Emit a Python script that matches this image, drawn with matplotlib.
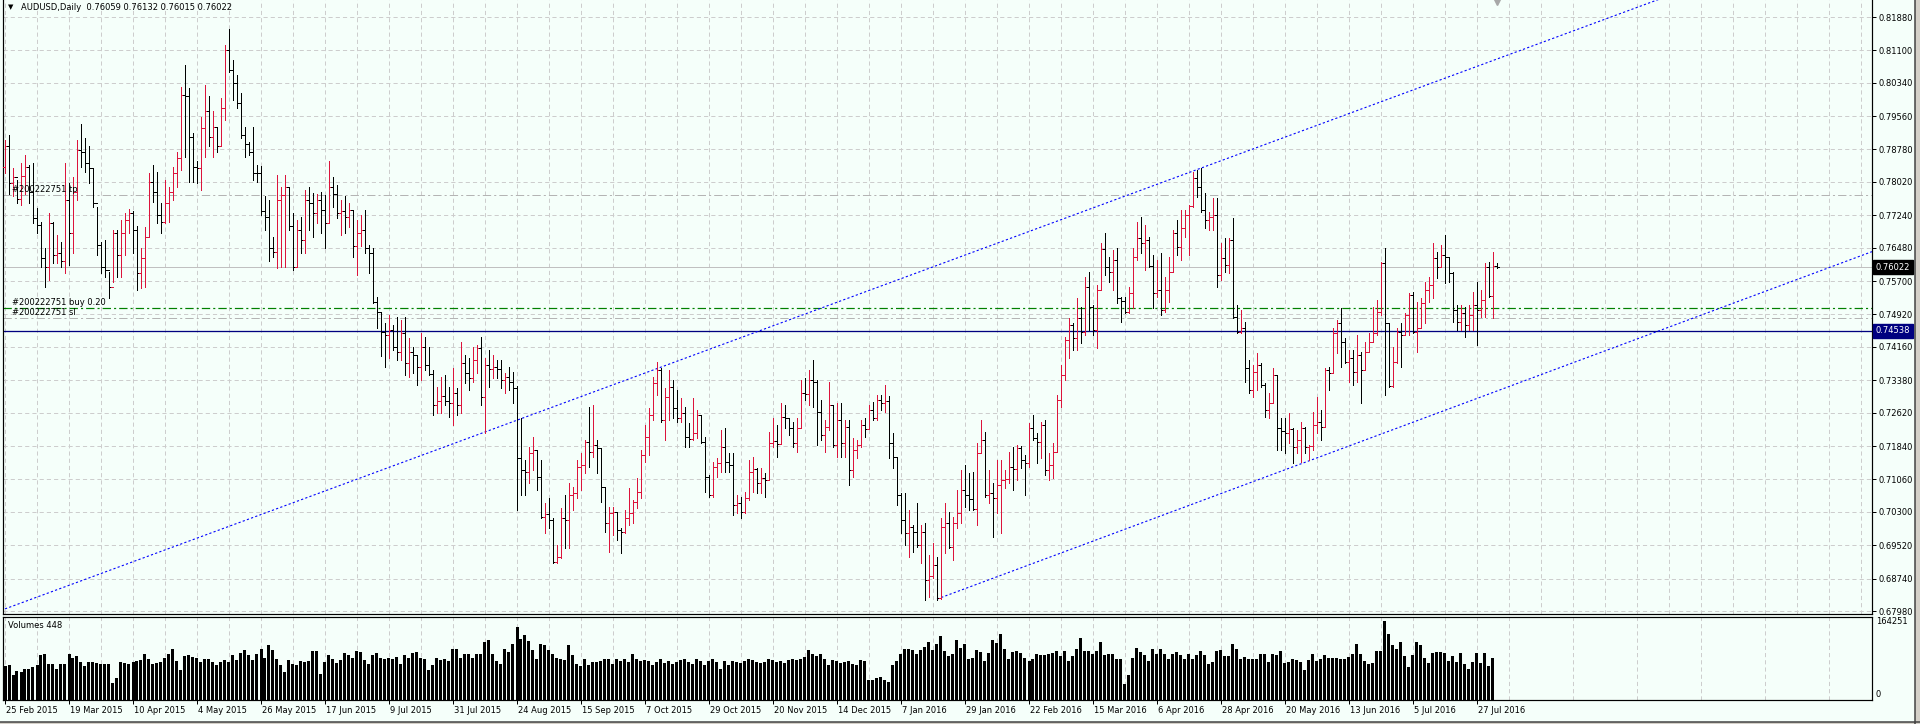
import numpy as np
import matplotlib
matplotlib.use("Agg")
import matplotlib.pyplot as plt
from matplotlib import transforms
from matplotlib.collections import LineCollection
from matplotlib.patches import Rectangle

plt.rcParams['font.family'] = ['DejaVu Sans']
plt.rcParams['lines.scale_dashes'] = False

# AUDUSD daily bars, 25 Feb 2015 .. 3 Aug 2016
highs = [
    .7900, .7912, .7834, .7807, .7846, .7865, .7842, .7846, .7740, .7709,
    .7647, .7729, .7709, .7678, .7662, .7846, .7799, .7814, .7900, .7938,
    .7904, .7885, .7834, .7744, .7662, .7666, .7592, .7690, .7690, .7713,
    .7729, .7739, .7735, .7700, .7647, .7697, .7822, .7842, .7826, .7752,
    .7807, .7791, .7838, .7873, .8025, .8076, .8021, .7916, .7850, .7955,
    .8029, .8002, .7967, .7931, .7998, .8122, .8161, .8087, .8052, .8010,
    .7931, .7895, .7931, .7842, .7840, .7768, .7760, .7674, .7818, .7791,
    .7818, .7787, .7729, .7713, .7721, .7783, .7791, .7777, .7775, .7779,
    .7772, .7850, .7814, .7795, .7760, .7768, .7752, .7736, .7713, .7725,
    .7736, .7655, .7647, .7533, .7498, .7472, .7491, .7467, .7486, .7479,
    .7486, .7437, .7416, .7397, .7449, .7439, .7416, .7362, .7322, .7346,
    .7350, .7322, .7367, .7320, .7428, .7397, .7390, .7416, .7421, .7439,
    .7390, .7409, .7397, .7385, .7385, .7355, .7369, .7357, .7325, .7250,
    .7151, .7182, .7205, .7175, .7151, .7051, .7062, .7016, .6952, .7039,
    .7070, .7098, .7088, .7151, .7168, .7198, .7275, .7280, .7198, .7180,
    .7088, .7041, .7041, .7030, .6992, .7034, .7086, .7058, .7109, .7175,
    .7233, .7273, .7346, .7381, .7367, .7320, .7362, .7339, .7315, .7296,
    .7275, .7238, .7296, .7268, .7257, .7205, .7116, .7147, .7156, .7222,
    .7226, .7168, .7168, .7070, .7065, .7077, .7151, .7158, .7133, .7133,
    .7121, .7217, .7250, .7233, .7285, .7280, .7250, .7240, .7250, .7339,
    .7343, .7362, .7385, .7339, .7292, .7245, .7334, .7280, .7285, .7285,
    .7245, .7245, .7203, .7198, .7245, .7250, .7280, .7287, .7303, .7303,
    .7327, .7301, .7214, .7158, .7074, .7074, .7034, .6999, .7051, .6999,
    .7004, .6929, .6957, .6924, .7016, .7051, .7030, .7018, .7081, .7128,
    .7140, .7121, .7123, .7191, .7245, .7217, .7128, .7098, .7151, .7151,
    .7128, .7170, .7182, .7186, .7184, .7163, .7238, .7257, .7214, .7240,
    .7245, .7168, .7191, .7303, .7374, .7439, .7484, .7472, .7530, .7509,
    .7580, .7591, .7514, .7561, .7659, .7683, .7626, .7643, .7647, .7533,
    .7533, .7556, .7647, .7708, .7720, .7701, .7673, .7631, .7619, .7636,
    .7580, .7626, .7690, .7713, .7736, .7736, .7748, .7825, .7830, .7835,
    .7776, .7732, .7764, .7764, .7659, .7671, .7671, .7718, .7514, .7503,
    .7474, .7385, .7374, .7402, .7378, .7332, .7308, .7367, .7350, .7250,
    .7250, .7261, .7226, .7222, .7240, .7228, .7186, .7264, .7299, .7268,
    .7367, .7369, .7460, .7479, .7507, .7437, .7409, .7409, .7444, .7404,
    .7428, .7449, .7509, .7526, .7615, .7647, .7472, .7416, .7460, .7472,
    .7495, .7542, .7545, .7521, .7530, .7568, .7580, .7659, .7638, .7654,
    .7678, .7626, .7591, .7514, .7514, .7509, .7514, .7545, .7568, .7549,
    .7612, .7615, .7638, .76132,
]
lows = [
    .7822, .7775, .7768, .7752, .7748, .7775, .7752, .7705, .7682, .7604,
    .7557, .7573, .7612, .7612, .7604, .7588, .7608, .7635, .7760, .7838,
    .7826, .7799, .7744, .7631, .7588, .7580, .7530, .7569, .7580, .7580,
    .7631, .7682, .7635, .7549, .7553, .7557, .7674, .7756, .7705, .7682,
    .7705, .7709, .7760, .7791, .7830, .7861, .7803, .7803, .7799, .7783,
    .7861, .7885, .7861, .7873, .7885, .7947, .8060, .7994, .7974, .7904,
    .7861, .7865, .7807, .7803, .7725, .7690, .7616, .7627, .7600, .7604,
    .7604, .7690, .7596, .7604, .7635, .7635, .7690, .7674, .7705, .7682,
    .7647, .7705, .7744, .7717, .7678, .7682, .7697, .7627, .7584, .7651,
    .7635, .7588, .7519, .7460, .7395, .7369, .7390, .7409, .7385, .7385,
    .7350, .7346, .7355, .7327, .7339, .7362, .7350, .7257, .7261, .7261,
    .7280, .7252, .7233, .7257, .7261, .7332, .7315, .7334, .7355, .7280,
    .7214, .7322, .7343, .7343, .7320, .7308, .7315, .7285, .7034, .7070,
    .7070, .7098, .7128, .7081, .7016, .6981, .6992, .6910, .6910, .6922,
    .6945, .6945, .7034, .7062, .7081, .7121, .7135, .7158, .7121, .7053,
    .6983, .6936, .6976, .6964, .6934, .6981, .6999, .7004, .7039, .7062,
    .7147, .7163, .7245, .7303, .7240, .7198, .7245, .7250, .7240, .7240,
    .7182, .7182, .7198, .7203, .7191, .7077, .7065, .7065, .7112, .7123,
    .7123, .7123, .7023, .7027, .7016, .7027, .7058, .7077, .7074, .7074,
    .7065, .7105, .7182, .7158, .7191, .7226, .7210, .7182, .7170, .7226,
    .7292, .7280, .7275, .7186, .7198, .7170, .7222, .7182, .7158, .7158,
    .7158, .7093, .7112, .7156, .7182, .7205, .7226, .7245, .7245, .7268,
    .7264, .7156, .7133, .7046, .6981, .6952, .6924, .6936, .6948, .6910,
    .6824, .6831, .6875, .6824, .6826, .6934, .6945, .6917, .6992, .7004,
    .7041, .7034, .7034, .6999, .7168, .7065, .7051, .6971, .7027, .6981,
    .7086, .7098, .7081, .7105, .7133, .7070, .7135, .7198, .7144, .7156,
    .7116, .7105, .7109, .7170, .7275, .7339, .7390, .7409, .7409, .7425,
    .7444, .7456, .7444, .7414, .7549, .7584, .7568, .7549, .7519, .7474,
    .7495, .7495, .7507, .7619, .7636, .7596, .7603, .7507, .7533, .7491,
    .7498, .7521, .7591, .7631, .7619, .7673, .7631, .7743, .7767, .7732,
    .7694, .7690, .7690, .7556, .7573, .7591, .7589, .7484, .7449, .7449,
    .7334, .7308, .7299, .7315, .7322, .7252, .7250, .7285, .7175, .7175,
    .7168, .7191, .7144, .7168, .7147, .7168, .7151, .7175, .7214, .7198,
    .7228, .7315, .7357, .7402, .7369, .7378, .7334, .7327, .7334, .7285,
    .7362, .7404, .7428, .7444, .7491, .7304, .7322, .7322, .7378, .7369,
    .7445, .7444, .7449, .7404, .7460, .7472, .7521, .7530, .7577, .7603,
    .7566, .7568, .7474, .7456, .7456, .7439, .7456, .7456, .7421, .7486,
    .7486, .7533, .7484, .76015,
]
closes = [
    .7885, .7799, .7814, .7761, .7816, .7838, .7779, .7717, .7701, .7623,
    .7604, .7705, .7631, .7635, .7616, .7760, .7682, .7779, .7877, .7873,
    .7846, .7834, .7752, .7655, .7604, .7596, .7557, .7682, .7631, .7682,
    .7713, .7729, .7690, .7588, .7623, .7674, .7803, .7779, .7725, .7709,
    .7752, .7779, .7822, .7857, .8006, .8002, .7908, .7838, .7834, .7928,
    .7967, .7908, .7931, .7885, .7974, .8111, .8064, .8033, .7986, .7912,
    .7892, .7873, .7822, .7822, .7733, .7721, .7647, .7639, .7760, .7772,
    .7791, .7698, .7604, .7690, .7666, .7760, .7752, .7729, .7760, .7736,
    .7705, .7791, .7775, .7729, .7733, .7721, .7736, .7651, .7682, .7690,
    .7647, .7635, .7520, .7498, .7451, .7445, .7455, .7416, .7404, .7449,
    .7378, .7404, .7397, .7369, .7416, .7374, .7352, .7280, .7290, .7300,
    .7290, .7285, .7308, .7280, .7378, .7355, .7343, .7385, .7414, .7299,
    .7374, .7365, .7370, .7365, .7339, .7345, .7334, .7320, .7156, .7128,
    .7123, .7168, .7175, .7112, .7018, .7025, .7010, .6913, .6924, .7016,
    .7010, .7070, .7074, .7135, .7140, .7193, .7170, .7186, .7180, .7088,
    .7004, .7027, .7030, .6988, .6983, .7016, .7027, .7053, .7077, .7163,
    .7205, .7257, .7332, .7362, .7245, .7299, .7322, .7273, .7250, .7261,
    .7205, .7200, .7214, .7257, .7193, .7112, .7070, .7135, .7144, .7182,
    .7147, .7140, .7046, .7050, .7030, .7062, .7123, .7130, .7098, .7109,
    .7105, .7191, .7195, .7188, .7252, .7250, .7226, .7191, .7226, .7308,
    .7305, .7339, .7334, .7264, .7210, .7228, .7280, .7186, .7245, .7191,
    .7228, .7128, .7175, .7186, .7233, .7225, .7268, .7250, .7292, .7285,
    .7290, .7191, .7158, .7070, .7011, .6981, .6995, .6983, .6952, .6983,
    .6871, .6880, .6906, .6829, .6995, .7004, .6948, .7004, .7027, .7081,
    .7070, .7060, .7036, .7168, .7198, .7070, .7074, .7062, .7093, .7105,
    .7107, .7135, .7130, .7179, .7151, .7145, .7226, .7203, .7193, .7233,
    .7128, .7140, .7170, .7292, .7350, .7432, .7467, .7437, .7484, .7451,
    .7556, .7509, .7456, .7549, .7645, .7603, .7591, .7619, .7531, .7524,
    .7498, .7542, .7626, .7671, .7659, .7666, .7605, .7542, .7549, .7502,
    .7549, .7591, .7683, .7650, .7694, .7725, .7746, .7811, .7790, .7736,
    .7713, .7720, .7725, .7584, .7624, .7608, .7666, .7486, .7451, .7460,
    .7367, .7315, .7357, .7374, .7327, .7268, .7285, .7350, .7226, .7220,
    .7215, .7225, .7182, .7198, .7226, .7182, .7184, .7233, .7240, .7228,
    .7362, .7355, .7449, .7472, .7428, .7381, .7390, .7357, .7397, .7362,
    .7404, .7428, .7449, .7498, .7612, .7472, .7325, .7381, .7451, .7445,
    .7491, .7538, .7451, .7460, .7519, .7549, .7561, .7624, .7603, .7631,
    .7626, .7589, .7502, .7474, .7495, .7467, .7491, .7514, .7503, .7526,
    .7603, .7535, .76059, .76022,
]
first_open = .7838   # each later bar opens at the previous close

# tick volumes, thousands
volumes_k = [
    70, 72, 51, 60, 59, 65, 65, 68, 72, 94,
    96, 74, 75, 65, 75, 75, 95, 88, 91, 79,
    70, 79, 78, 77, 75, 75, 74, 36, 45, 78,
    77, 75, 79, 81, 84, 96, 86, 75, 77, 79,
    88, 95, 105, 82, 62, 91, 93, 89, 88, 79,
    86, 86, 79, 72, 79, 84, 78, 93, 84, 98,
    103, 93, 84, 96, 107, 88, 114, 103, 86, 72,
    58, 84, 75, 72, 82, 79, 82, 102, 102, 55,
    79, 93, 86, 77, 84, 98, 93, 88, 101, 100,
    84, 75, 93, 98, 88, 86, 88, 86, 89, 75,
    93, 88, 98, 99, 88, 86, 62, 73, 88, 84,
    86, 82, 107, 107, 88, 96, 96, 88, 96, 96,
    121, 124, 96, 82, 75, 107, 100, 117, 152, 126,
    135, 123, 103, 86, 116, 114, 103, 96, 88, 86,
    84, 114, 93, 75, 70, 86, 72, 79, 79, 82,
    86, 86, 75, 86, 82, 86, 79, 96, 86, 82,
    84, 82, 72, 79, 86, 77, 82, 75, 79, 84,
    86, 79, 75, 86, 82, 72, 82, 86, 79, 65,
    82, 72, 82, 79, 77, 82, 86, 84, 79, 77,
    79, 86, 84, 79, 82, 77, 84, 86, 84, 86,
    89, 103, 96, 91, 95, 86, 72, 84, 82, 77,
    79, 82, 75, 72, 84, 82, 41, 42, 46, 48,
    41, 37, 72, 82, 96, 105, 105, 103, 96, 103,
    110, 121, 103, 117,
    133, 102, 91, 96, 124, 108, 116, 85, 88, 103,
    100, 82, 98, 124, 119, 137, 106, 85, 100, 101,
    98, 88, 81, 86, 95, 93, 93, 95, 98, 101,
    91, 101, 82, 91, 107, 128, 101, 102, 95, 101,
    120, 94, 96, 96, 85, 86, 34, 51, 88, 109,
    99, 93, 82, 106, 95, 106, 96, 86, 95, 99,
    94, 85, 96, 85, 93, 101, 93, 74, 80, 101,
    103, 91, 91, 117, 107, 85, 90, 86, 86, 85,
    95, 96, 80, 95, 94, 101, 77, 79, 86, 84,
    78, 62, 84, 95, 82, 86, 94, 87, 88, 88,
    86, 85, 89, 96, 117, 96, 81, 75, 77, 101,
    101, 164.251, 137, 114, 106, 120, 92, 68, 93, 120,
    114, 88, 77, 98, 100, 100, 98, 82, 92, 80,
    98, 74, 64, 78, 98, 77, 98, 70, 87, 0.448,
]

price_ticks = [0.67980, 0.68740, 0.69520, 0.70300, 0.71060, 0.71840, 0.72620,
               0.73380, 0.74160, 0.74920, 0.75700, 0.76480, 0.77240, 0.78020,
               0.78780, 0.79560, 0.80340, 0.81100, 0.81880]
date_labels = ['25 Feb 2015', '19 Mar 2015', '10 Apr 2015', '4 May 2015',
               '26 May 2015', '17 Jun 2015', '9 Jul 2015', '31 Jul 2015',
               '24 Aug 2015', '15 Sep 2015', '7 Oct 2015', '29 Oct 2015',
               '20 Nov 2015', '14 Dec 2015', '7 Jan 2016', '29 Jan 2016',
               '22 Feb 2016', '15 Mar 2016', '6 Apr 2016', '28 Apr 2016',
               '20 May 2016', '13 Jun 2016', '5 Jul 2016', '27 Jul 2016']
date_step = 16

# order levels and channel anchors (bar index, price)
tp_level = 0.7771
buy_level = 0.7507
sl_level = 0.7483
line_level = 0.74538
bid = 0.76022
upper_channel = ([0, 298], [0.6803, 0.7831])
lower_channel = ([233, 323], [0.6826, 0.7139])

BG = '#f5fffa'
RED = '#dc143c'
GRID = '#cdcdcd'
W, H = 1920, 724
PX = 0.72  # one pixel in points

fig = plt.figure(figsize=(19.2, 7.24), dpi=100, facecolor=BG)
ax = fig.add_axes([3 / W, 1 - 614 / H, 1869 / W, 614 / H], facecolor=BG)
axv = fig.add_axes([3 / W, 1 - 700 / H, 1869 / W, 83 / H], facecolor=BG)

n = len(closes)
xs = np.arange(n)
hi = np.array(highs)
lo = np.array(lows)
cl = np.array(closes)
op = np.r_[first_open, cl[:-1]]

segs, cols = [], []
for i in xs:
    c = RED if cl[i] > op[i] else 'black'
    segs += [[(i, lo[i]), (i, hi[i])],
             [(i - 0.45, op[i]), (i, op[i])],
             [(i, cl[i]), (i + 0.45, cl[i])]]
    cols += [c, c, c]
ax.add_collection(LineCollection(segs, colors=cols, linewidths=PX,
                                 antialiaseds=False, zorder=4))

xmin, xmax = -0.5, -0.5 + 1869 / 4
ax.set_xlim(xmin, xmax)
ax.set_ylim(0.82278 - 614 * 0.000234, 0.82278)

dash_dot = (0, (6, 2.2, 1.5, 2.2))
ax.axhline(tp_level, color='#b4b4b4', lw=PX, ls=dash_dot, zorder=2)
ax.axhline(buy_level, color='#008000', lw=PX * 1.2, ls=dash_dot, zorder=2)
ax.axhline(sl_level, color='#b4b4b4', lw=PX, ls=dash_dot, zorder=2)
ax.axhline(line_level, color='#000080', lw=PX * 1.3, zorder=2)
ax.axhline(bid, color='#c0c0c0', lw=PX, zorder=2)

# channel rays
for (bx, by) in (upper_channel, lower_channel):
    k = (by[1] - by[0]) / (bx[1] - bx[0])
    x_end = xmax
    ax.plot([bx[0], x_end], [by[0], by[0] + k * (x_end - bx[0])],
            color='#0000ff', lw=PX * 1.1, ls=(0, (1.6, 1.6)), zorder=3)

# grid
ax.set_xticks(np.arange(0, xmax, 8))
ax.tick_params(axis='x', length=0, labelbottom=False)
ax.set_yticks(price_ticks)
ax.set_yticklabels(['%.5f' % p for p in price_ticks])
ax.yaxis.tick_right()
ax.tick_params(axis='y', length=3, width=PX, pad=2, labelsize=6, colors='black')
ax.grid(True, color=GRID, lw=PX, ls=(0, (3, 2.2)), zorder=0)
ax.spines['top'].set_visible(False)
for s in ('left', 'right', 'bottom'):
    ax.spines[s].set_linewidth(PX * 1.2)
    ax.spines[s].set_color('black')

yt = transforms.blended_transform_factory(ax.transAxes, ax.transData)
ax.text(1.0021, bid, '%.5f' % bid, transform=yt, fontsize=6, color='white',
        va='center', ha='left', zorder=6,
        bbox=dict(boxstyle='square,pad=0.3', fc='black', ec='black'))
ax.text(1.0021, line_level, '%.5f' % line_level, transform=yt, fontsize=6,
        color='white', va='center', ha='left', zorder=6,
        bbox=dict(boxstyle='square,pad=0.3', fc='#000080', ec='#000080'))

lx = 9 / 1869
off = transforms.ScaledTranslation(0, 1.5 / 100, fig.dpi_scale_trans)
for lvl, txt in ((tp_level, '#200222751 tp'), (buy_level, '#200222751 buy 0.20'),
                 (sl_level, '#200222751 sl')):
    ax.text(lx, lvl, txt, transform=yt + off, fontsize=6, va='bottom',
            ha='left', color='black', zorder=5)

# chart shift marker
ax.plot([n - 1], [0.82278 - 2.2 * 0.000234], marker='v', ms=5, color='#a8a8a8',
        clip_on=False, zorder=6)

# volumes
axv.bar(xs, volumes_k, width=0.75, color='black', linewidth=0,
        antialiased=False, zorder=3)
axv.set_xlim(xmin, xmax)
axv.set_ylim(0, 164.251 * 83 / 79)
axv.set_yticks([])
axv.set_xticks(np.arange(0, len(date_labels) * date_step, date_step))
axv.set_xticklabels(date_labels)
axv.set_xticks(np.arange(8, xmax, 16), minor=True)
axv.tick_params(axis='x', which='major', length=3, width=PX, pad=1,
                labelsize=6, colors='black')
axv.tick_params(axis='x', which='minor', length=0)
shift = transforms.ScaledTranslation(1.5 / 100, 0, fig.dpi_scale_trans)
for lab in axv.get_xticklabels():
    lab.set_horizontalalignment('left')
    lab.set_transform(lab.get_transform() + shift)
axv.grid(True, which='both', axis='x', color=GRID, lw=PX, ls=(0, (3, 2.2)), zorder=0)
for s in axv.spines.values():
    s.set_linewidth(PX * 1.2)
    s.set_color('black')
vt = transforms.blended_transform_factory(axv.transAxes, axv.transData)
axv.text(1.0021, 164.251, '164251', transform=vt, fontsize=6, va='center', ha='left')
axv.text(1.0021, 3, '0', transform=vt, fontsize=6, va='bottom', ha='left')

# header texts
fig.text(8 / W, 1 - 7 / H, '\u25bc', fontsize=5, va='center', ha='left')
fig.text(21 / W, 1 - 7 / H, 'AUDUSD,Daily  0.76059 0.76132 0.76015 0.76022',
         fontsize=6, va='center', ha='left')
fig.text(8 / W, 1 - 626 / H, 'Volumes 448', fontsize=6, va='center', ha='left')

# window frame
fig.patches.append(Rectangle((1915 / W, 0), 5 / W, 1, transform=fig.transFigure,
                             fc='#d4d0c8', ec='none', zorder=10))
fig.patches.append(Rectangle((0, 0), 1, 2.5 / H, transform=fig.transFigure,
                             fc='#d4d0c8', ec='none', zorder=10))
fig.lines.append(plt.Line2D([1915 / W, 1915 / W], [0, 1], transform=fig.transFigure,
                            color='#404040', lw=PX * 1.5, zorder=11))
fig.lines.append(plt.Line2D([0, 1], [2.5 / H, 2.5 / H], transform=fig.transFigure,
                            color='#404040', lw=PX * 1.5, zorder=11))

fig.savefig('out.png', dpi=100, facecolor=BG)
